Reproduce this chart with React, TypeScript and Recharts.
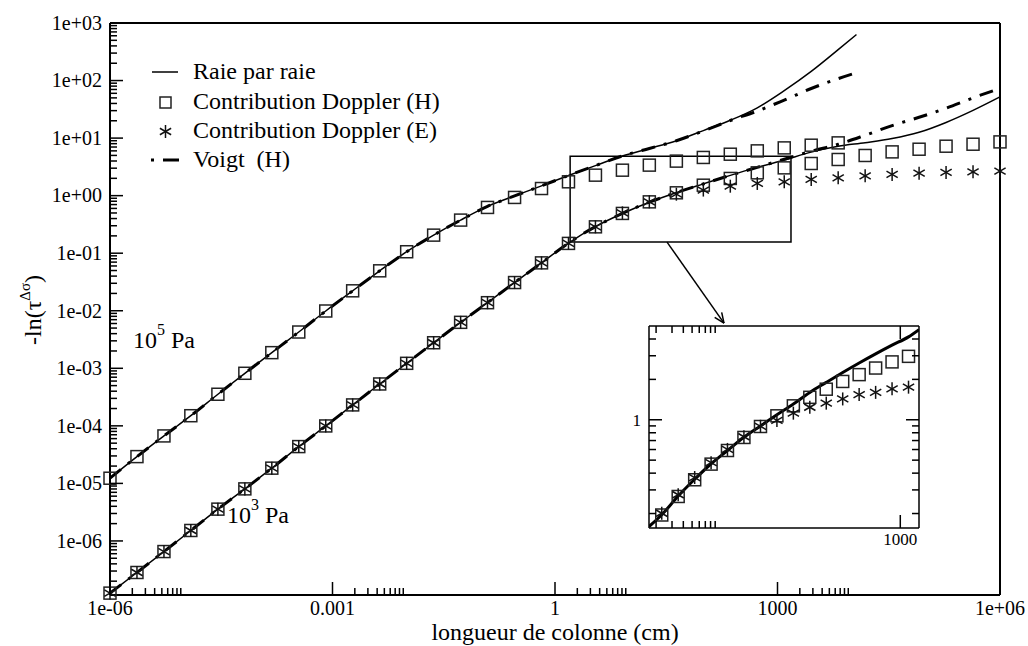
import React from 'react';
import { ComposedChart, Line, Scatter, XAxis, YAxis, ReferenceArea, ReferenceLine } from 'recharts';

const FONT = '"Liberation Serif", "Times New Roman", Times, serif';

// column lengths (cm) of the main plot
const lengths = [1e-6, 2.31e-6, 5.34e-6, 1.23e-5, 2.85e-5, 6.58e-5, 1.52e-4, 3.51e-4, 8.11e-4, 1.87e-3, 4.33e-3, 1e-2, 2.31e-2, 5.34e-2, 0.123, 0.285, 0.658, 1.52, 3.51, 8.11, 18.7, 43.3, 100, 231, 534, 1233, 2848, 6579, 15199, 35112, 81113, 187382, 432876, 1e6];
const upperLineEnd = 11600;

// 10^5 Pa
const upperDoppler = [1.23e-5, 2.92e-5, 6.68e-5, 1.5e-4, 3.54e-4, 8.19e-4, 1.87e-3, 4.27e-3, 9.9e-3, 0.0222, 0.0494, 0.106, 0.206, 0.376, 0.624, 0.931, 1.33, 1.74, 2.27, 2.77, 3.39, 3.98, 4.61, 5.25, 6.0, 6.76, 7.53, 8.26];
const upperRaie = [1.23e-5, 2.92e-5, 6.68e-5, 1.5e-4, 3.54e-4, 8.19e-4, 1.87e-3, 4.27e-3, 9.9e-3, 0.0222, 0.0494, 0.106, 0.206, 0.376, 0.65, 0.99, 1.48, 2.24, 3.33, 4.9, 6.6, 9.0, 13.5, 20.4, 33.6, 66.7, 144, 344, 630];
const upperVoigt = [1.23e-5, 2.92e-5, 6.68e-5, 1.5e-4, 3.54e-4, 8.19e-4, 1.87e-3, 4.27e-3, 9.9e-3, 0.0222, 0.0494, 0.106, 0.206, 0.376, 0.65, 0.99, 1.48, 2.24, 3.33, 4.9, 6.6, 9.0, 13.3, 20.2, 29.5, 45.8, 72.7, 108, 137];

// 10^3 Pa
const lowerDoppler = [1.24e-7, 2.83e-7, 6.54e-7, 1.52e-6, 3.57e-6, 8.03e-6, 1.84e-5, 4.36e-5, 9.96e-5, 2.31e-4, 5.34e-4, 1.22e-3, 2.78e-3, 6.29e-3, 1.38e-2, 3.09e-2, 6.79e-2, 0.148, 0.287, 0.491, 0.78, 1.12, 1.52, 1.99, 2.49, 3.04, 3.62, 4.25, 4.99, 5.76, 6.41, 7.23, 7.83, 8.59];
const lowerDopplerE = [1.24e-7, 2.83e-7, 6.54e-7, 1.52e-6, 3.57e-6, 8.03e-6, 1.84e-5, 4.36e-5, 9.96e-5, 2.31e-4, 5.34e-4, 1.22e-3, 2.78e-3, 6.29e-3, 1.38e-2, 3.09e-2, 6.79e-2, 0.148, 0.287, 0.502, 0.78, 1.06, 1.25, 1.46, 1.63, 1.74, 1.91, 2.04, 2.21, 2.34, 2.46, 2.53, 2.59, 2.66];
const lowerRaie = [1.24e-7, 2.83e-7, 6.54e-7, 1.52e-6, 3.57e-6, 8.03e-6, 1.84e-5, 4.36e-5, 9.96e-5, 2.31e-4, 5.34e-4, 1.22e-3, 2.78e-3, 6.29e-3, 1.38e-2, 3.09e-2, 6.79e-2, 0.15, 0.29, 0.49, 0.77, 1.13, 1.6, 2.25, 3.1, 4.15, 5.7, 7.2, 8.3, 9.8, 12.6, 18.7, 30.3, 52];
const lowerVoigt = [1.24e-7, 2.83e-7, 6.54e-7, 1.52e-6, 3.57e-6, 8.03e-6, 1.84e-5, 4.36e-5, 9.96e-5, 2.31e-4, 5.34e-4, 1.22e-3, 2.78e-3, 6.29e-3, 1.38e-2, 3.09e-2, 6.79e-2, 0.15, 0.29, 0.49, 0.77, 1.13, 1.6, 2.25, 3.1, 4.3, 5.9, 7.8, 11.2, 16.5, 23, 33, 50, 73];

// inset (zoom on 10^3 Pa)
const insetLengths = [2.31, 3.51, 5.34, 8.11, 12.3, 18.7, 28.5, 43.3, 65.8, 100, 152, 231, 351, 534, 811, 1233];
const insetDoppler = [0.195, 0.268, 0.357, 0.467, 0.59, 0.738, 0.891, 1.07, 1.27, 1.47, 1.69, 1.93, 2.17, 2.43, 2.7, 2.97];
const insetDopplerE = [0.201, 0.276, 0.371, 0.479, 0.601, 0.747, 0.894, 0.988, 1.12, 1.24, 1.33, 1.43, 1.54, 1.6, 1.7, 1.75];
const insetRaieLengths = [1.67, 2.31, 3.51, 5.34, 8.11, 12.3, 18.7, 28.5, 43.3, 65.8, 100, 152, 231, 351, 534, 811, 1233, 1610];
const insetRaie = [0.16, 0.196, 0.27, 0.36, 0.47, 0.59, 0.74, 0.9, 1.09, 1.31, 1.6, 1.9, 2.25, 2.65, 3.1, 3.6, 4.15, 4.7];

// ticks
const xMajor = [1e-6, 1e-3, 1, 1e3, 1e6];
const xMajorLabels = ['1e-06', '0.001', '1', '1000', '1e+06'];
const yMajor = [1e-6, 1e-5, 1e-4, 1e-3, 1e-2, 1e-1, 1, 10, 100, 1000];
const yMajorLabels = ['1e-06', '1e-05', '1e-04', '1e-03', '1e-02', '1e-01', '1e+00', '1e+01', '1e+02', '1e+03'];
const minorSteps = [2, 3, 4, 5, 6, 7, 8, 9];
const xTicks = [...xMajor, ...xMajor.slice(0, 4).flatMap((m) => minorSteps.map((s) => s * m))];
const yTicks = [...yMajor, ...[1e-7, ...yMajor.slice(0, 9)].flatMap((m) => minorSteps.map((s) => s * m))];

const insetXMajor = [1000];
const insetXLabels = ['1000'];
const insetXTicks = [...minorSteps, 1000];
const insetYMajor = [1];
const insetYLabels = ['1'];
const insetYTicks = [...minorSteps.map((s) => s / 10), 1, 2, 3, 4];

const pts = (xs: number[], ys: number[]) => ys.map((y, i) => ({ x: xs[i], y }));

type Side = 'bottom' | 'top' | 'left' | 'right';
const makeTick = (side: Side, majors: number[], labels: string[] | null, fontSize: number) => (props: any) => {
  const { x, y, payload } = props;
  const idx = majors.indexOf(payload.value);
  const len = idx >= 0 ? 13 : 7;
  let x2 = x;
  let y2 = y;
  if (side === 'bottom') y2 = y - len;
  if (side === 'top') y2 = y + len;
  if (side === 'left') x2 = x + len;
  if (side === 'right') x2 = x - len;
  let label = null;
  if (labels && idx >= 0) {
    if (side === 'bottom') {
      label = <text x={x} y={y + fontSize} textAnchor="middle" fontSize={fontSize} fontFamily={FONT} fill="#000">{labels[idx]}</text>;
    } else if (side === 'left') {
      label = <text x={x - 8} y={y + fontSize * 0.34} textAnchor="end" fontSize={fontSize} fontFamily={FONT} fill="#000">{labels[idx]}</text>;
    }
  }
  return (
    <g>
      <line x1={x} y1={y} x2={x2} y2={y2} stroke="#000" strokeWidth={1.5} />
      {label}
    </g>
  );
};

const Square = (p: any) => (
  <rect x={p.cx - 6} y={p.cy - 6} width={12} height={12} fill="none" stroke="#222" strokeWidth={1.5} />
);

// six-armed asterisk
const Star = (p: any) => {
  const r = 6.5;
  const dx = r * 0.866;
  const dy = r * 0.5;
  return (
    <g stroke="#111" strokeWidth={1.5}>
      <line x1={p.cx} y1={p.cy - r} x2={p.cx} y2={p.cy + r} />
      <line x1={p.cx - dx} y1={p.cy - dy} x2={p.cx + dx} y2={p.cy + dy} />
      <line x1={p.cx - dx} y1={p.cy + dy} x2={p.cx + dx} y2={p.cy - dy} />
    </g>
  );
};

const Arrow = (p: any) => {
  const { x1, y1, x2, y2 } = p;
  const a = Math.atan2(y2 - y1, x2 - x1);
  const h = 11;
  const s = 0.4;
  return (
    <g stroke="#000" strokeWidth={1.5} fill="none">
      <line x1={x1} y1={y1} x2={x2} y2={y2} />
      <line x1={x2} y1={y2} x2={x2 - h * Math.cos(a - s)} y2={y2 - h * Math.sin(a - s)} />
      <line x1={x2} y1={y2} x2={x2 - h * Math.cos(a + s)} y2={y2 - h * Math.sin(a + s)} />
    </g>
  );
};

const DASHDOT = '14 9 3 9';

// axes are 1px thick boxes (a zero-size axis is not drawn); no overflow so markers on the frame are not clipped
const axisCommon = { tickLine: false, tickSize: 0, tickMargin: 0, interval: 0 as const, allowDataOverflow: false, axisLine: { stroke: '#000', strokeWidth: 2 } };

export default function App() {
  const upperX = [...lengths.slice(0, 28), upperLineEnd];
  const insetAxisLine = { stroke: '#000', strokeWidth: 1.5 };
  return (
    <div style={{ position: 'absolute', left: 0, top: 0, width: 1028, height: 646, background: '#fff', fontFamily: FONT }}>
      <div style={{ position: 'absolute', left: 0, top: 0 }}>
        <ComposedChart width={1028} height={646} margin={{ top: 22, right: 27, bottom: 50, left: 109 }}>
          <XAxis dataKey="x" type="number" scale="log" domain={[1e-6, 1e6]} ticks={xTicks} height={1} {...axisCommon} tick={makeTick('bottom', xMajor, xMajorLabels, 20)} />
          <XAxis xAxisId="top" orientation="top" dataKey="x" type="number" scale="log" domain={[1e-6, 1e6]} ticks={xTicks} height={1} {...axisCommon} tick={makeTick('top', xMajor, null, 20)} />
          <YAxis dataKey="y" type="number" scale="log" domain={[1.15e-7, 1000]} ticks={yTicks} width={1} {...axisCommon} tick={makeTick('left', yMajor, yMajorLabels, 20)} />
          <YAxis yAxisId="right" orientation="right" dataKey="y" type="number" scale="log" domain={[1.15e-7, 1000]} ticks={yTicks} width={1} {...axisCommon} tick={makeTick('right', yMajor, null, 20)} />

          <ReferenceArea x1={1.6} x2={1520} y1={0.156} y2={4.85} fill="none" fillOpacity={0} stroke="#000" strokeWidth={1.5} />
          <ReferenceLine segment={[{ x: 32.4, y: 0.156 }, { x: 190, y: 0.0061 }]} shape={Arrow} />

          <Line data={pts(upperX, upperRaie)} dataKey="y" type="monotone" stroke="#000" strokeWidth={1.5} dot={false} isAnimationActive={false} />
          <Line data={pts(upperX, upperVoigt)} dataKey="y" type="monotone" stroke="#000" strokeWidth={3} strokeDasharray={DASHDOT} dot={false} isAnimationActive={false} />
          <Line data={pts(lengths, lowerRaie)} dataKey="y" type="monotone" stroke="#000" strokeWidth={1.5} dot={false} isAnimationActive={false} />
          <Line data={pts(lengths, lowerVoigt)} dataKey="y" type="monotone" stroke="#000" strokeWidth={3} strokeDasharray={DASHDOT} dot={false} isAnimationActive={false} />

          <Scatter data={pts(lengths, upperDoppler)} dataKey="y" shape={Square} isAnimationActive={false} />
          <Scatter data={pts(lengths, lowerDoppler)} dataKey="y" shape={Square} isAnimationActive={false} />
          <Scatter data={pts(lengths, lowerDopplerE)} dataKey="y" shape={Star} isAnimationActive={false} />
        </ComposedChart>
      </div>

      <div style={{ position: 'absolute', left: 619, top: 306 }}>
        <ComposedChart width={320} height={250} margin={{ top: 19, right: 19, bottom: 27, left: 29 }}>
          <XAxis dataKey="x" type="number" scale="log" domain={[1.67, 1610]} ticks={insetXTicks} height={1} {...axisCommon} allowDataOverflow axisLine={insetAxisLine} tick={makeTick('bottom', insetXMajor, insetXLabels, 17)} />
          <XAxis xAxisId="top" orientation="top" dataKey="x" type="number" scale="log" domain={[1.67, 1610]} ticks={insetXTicks} height={1} {...axisCommon} allowDataOverflow axisLine={insetAxisLine} tick={makeTick('top', insetXMajor, null, 17)} />
          <YAxis dataKey="y" type="number" scale="log" domain={[0.156, 5]} ticks={insetYTicks} width={1} {...axisCommon} allowDataOverflow axisLine={insetAxisLine} tick={makeTick('left', insetYMajor, insetYLabels, 17)} />
          <YAxis yAxisId="right" orientation="right" dataKey="y" type="number" scale="log" domain={[0.156, 5]} ticks={insetYTicks} width={1} {...axisCommon} allowDataOverflow axisLine={insetAxisLine} tick={makeTick('right', insetYMajor, null, 17)} />
          <Line data={pts(insetRaieLengths, insetRaie)} dataKey="y" type="monotone" stroke="#000" strokeWidth={3} dot={false} isAnimationActive={false} />
          <Scatter data={pts(insetLengths, insetDoppler)} dataKey="y" shape={Square} isAnimationActive={false} />
          <Scatter data={pts(insetLengths, insetDopplerE)} dataKey="y" shape={Star} isAnimationActive={false} />
        </ComposedChart>
      </div>

      <svg width={1028} height={646} style={{ position: 'absolute', left: 0, top: 0, pointerEvents: 'none' }} fontFamily={FONT} fill="#000">
        {/* legend */}
        <line x1={152} y1={72} x2={178} y2={72} stroke="#000" strokeWidth={1.5} />
        <text x={193} y={79} fontSize={24}>Raie par raie</text>
        <rect x={160} y={97} width={11} height={11} fill="none" stroke="#222" strokeWidth={1.5} />
        <text x={193} y={109} fontSize={24}>Contribution Doppler (H)</text>
        <Star cx={165.5} cy={131.5} />
        <text x={193} y={138} fontSize={24}>Contribution Doppler (E)</text>
        <line x1={151} y1={160} x2={179} y2={160} stroke="#000" strokeWidth={3} strokeDasharray="3 9 16 0" />
        <text x={193} y={167} fontSize={24} style={{ whiteSpace: 'pre' }}>Voigt  (H)</text>

        {/* pressure labels */}
        <text x={133} y={348} fontSize={24}>10<tspan dy={-13} fontSize={16}>5</tspan><tspan dy={13} fontSize={24}> Pa</tspan></text>
        <text x={227} y={523} fontSize={24}>10<tspan dy={-13} fontSize={16}>3</tspan><tspan dy={13} fontSize={24}> Pa</tspan></text>

        {/* axis titles */}
        <text x={555} y={640} fontSize={24} textAnchor="middle">longueur de colonne (cm)</text>
        <g transform="translate(41,310) rotate(-90)">
          <text x={0} y={0} fontSize={24} textAnchor="middle">-ln(τ<tspan dy={-11} fontSize={15}>Δσ</tspan><tspan dy={11} fontSize={24}>)</tspan></text>
        </g>
      </svg>
    </div>
  );
}
